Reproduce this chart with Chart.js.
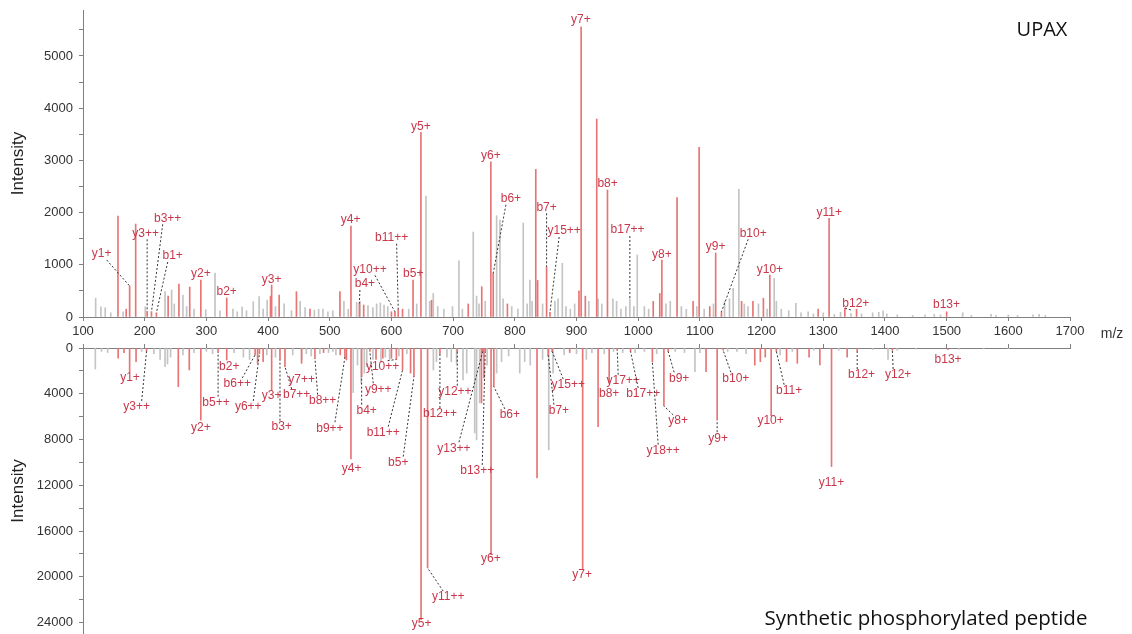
<!DOCTYPE html>
<html>
<head>
<meta charset="utf-8">
<script src="https://cdn.jsdelivr.net/npm/chart.js@4.4.1/dist/chart.umd.min.js"></script>
<style>
  body { margin: 0; background: #fff; width: 1132px; height: 634px; overflow: hidden; position: relative; }
  canvas { position: absolute; left: 0; }
  #top { top: 0; }
  #bot { top: 334px; }
  .note { position: absolute; white-space: nowrap; transform: translate(-50%, -50%); color: #111; }
</style>
</head>
<body>
<canvas id="top" width="1132" height="345"></canvas>
<canvas id="bot" width="1132" height="300"></canvas>
<div class="note" style="left:1042px;top:28px;font:20px 'Open Sans',sans-serif">UPAX</div>
<div class="note" style="left:1112px;top:333px;font:14px 'Liberation Sans',Arial,sans-serif;color:#333">m/z</div>
<div class="note" style="left:926px;top:617px;font:20.5px 'Open Sans',sans-serif">Synthetic phosphorylated peptide</div>
<script>
// [m/z, intensity]
const topMatched = [[156.7,1934],[170,150],[175.6,594],[185.4,1780],[204,110],[211,100],[219,80],[238,400],[255.5,632],[273,574],[291,708],[333,364],[404,400],[405.8,613],[418,421],[446,485],[468,150],[516.5,485],[534.4,1743],[548,260],[555,230],[600,100],[605.7,100],[611,150],[618,150],[635,708],[647.8,3537],[665,320],[724.5,250],[746.4,580],[761.2,2974],[765,840],[788,250],[834,2828],[837,700],[851.5,963],[857,90],[904,500],[907.5,5560],[914.3,400],[932.8,3792],[950.2,2432],[1024.4,300],[1035,450],[1038.4,1092],[1063,2285],[1089,300],[1098.8,3250],[1116,200],[1125.6,1225],[1135,100],[1167.6,300],[1186,300],[1203,360],[1213.4,804],[1291.7,150],[1309.5,1890],[1335,170],[1354,150],[1500,100]];
const topOther = [[120.5,360],[129,197],[136,178],[145,80],[165,100],[201,200],[233,485],[243.7,517],[248,250],[262,420],[268,200],[280,150],[299,140],[314,843],[322,120],[343,150],[350,100],[358,190],[365,120],[376,293],[385.5,390],[392,150],[398.5,325],[412,200],[426,250],[438,120],[452,300],[460,180],[475,130],[482,150],[489,150],[497,100],[505,120],[523,300],[530,150],[543.6,280],[549,300],[562,220],[570,180],[576,250],[582,270],[588,230],[594,200],[628,150],[641,250],[656,2317],[662,300],[667.8,450],[675,200],[685,150],[699,200],[709.4,1078],[715,150],[732.6,1627],[738,400],[742,250],[752,300],[770.5,1940],[775.9,1858],[781,350],[795,200],[805,150],[813.7,1800],[820,250],[824.5,708],[828,300],[845,250],[865,300],[870,350],[877,1028],[883,200],[890,150],[897,250],[920,300],[935,350],[941,250],[959,350],[965,300],[972,150],[980,200],[986.5,350],[993,200],[998.5,1187],[1010,200],[1017,150],[1045,250],[1052,300],[1070,200],[1078,150],[1095,200],[1107,150],[1122,250],[1140,300],[1148,350],[1154,550],[1163.2,2445],[1172,250],[1178,200],[1195,250],[1209,150],[1220.5,740],[1224,300],[1232,150],[1244,120],[1255.6,260],[1264,80],[1275.5,100],[1284,60],[1300,80],[1318,50],[1328,90],[1345,70],[1362,60],[1380,80],[1390,90],[1397,120],[1403,60],[1420,40],[1445,30],[1465,40],[1480,50],[1490,40],[1526,80],[1540,30],[1572,50],[1580,30],[1600,40],[1615,30],[1640,40],[1650,50],[1660,30]];

const botMatched = [[157,880],[166.5,400],[175.6,2070],[186,1190],[203,300],[254.5,3380],[272.3,1920],[291,6300],[319,400],[333,1050],[379,600],[383,1340],[386,500],[392,1200],[405.8,3670],[419.3,1000],[427.4,1630],[454.3,1340],[476,900],[490,400],[517,600],[524.6,800],[527,1050],[534.4,9700],[551.7,2500],[565,300],[575,1000],[586,900],[600,900],[608,1000],[618,1920],[631,2200],[636.5,2500],[648,23750],[658.6,19230],[678.6,500],[706.7,300],[746,4800],[748,300],[750,2620],[752,400],[761.5,18070],[766,3380],[836,11350],[854,600],[860.5,300],[889,400],[910,19380],[935,6870],[953,3060],[966,200],[987.6,300],[1023,1200],[1041.7,5060],[1048.6,300],[1110,2070],[1128,6290],[1137.7,200],[1189,1500],[1198,1200],[1206,800],[1215.6,5940],[1224,300],[1240.5,1190],[1258,1340],[1277,800],[1294.5,1480],[1313.4,10360],[1338.8,800],[1355,300],[1412,200],[1502,150]];
const botOther = [[120,1830],[130,300],[140,400],[195,300],[215,500],[225,1000],[233,1630],[237,1400],[242,800],[262,600],[280,400],[300,300],[310,500],[345,400],[360,800],[370,1000],[398,600],[412,800],[440,600],[454.5,1000],[462,500],[470,700],[484,500],[498,400],[505,300],[510,600],[538,3900],[545,1500],[551,3080],[556,2200],[560,1630],[570,1000],[583,1200],[590,800],[597,1000],[612,700],[625,500],[668,1920],[673,1200],[690,800],[697,1200],[705.6,1400],[716,2800],[722,2200],[735,7420],[738,8030],[743,4800],[755,1500],[770.5,2200],[778.5,1200],[790,700],[808,2200],[816,1200],[825,1500],[845,1000],[855,8900],[862,2200],[880,600],[900,500],[916,1000],[925,400],[945,500],[960,300],[975,400],[995,400],[1010,300],[1030,500],[1060,300],[1075,400],[1092,2070],[1100,400],[1145,300],[1160,300],[1175,500],[1230,600],[1250,300],[1285,200],[1325,200],[1380,150],[1405,990],[1420,200],[1450,100],[1520,100],[1560,60],[1600,60]];

// fragment ion labels: name, m/z of the peak it marks, where the tag sits (m/z, intensity)
const topIons   = ['y1+','y3++','b3++','b1+','y2+','b2+','y3+','y4+','b11++','y10++','b4+','b5+','y5+','y6+','b6+','b7+','y15++','y7+','b8+','b17++','y8+','y9+','b10+','y10+','y11+','b12+','b13+'];
const topIonMz  = [175.6,204,211,219,291,333,405.8,534.4,611,605.7,548,635,647.8,761.2,765,851.5,857,907.5,950.2,986.5,1038.4,1125.6,1135,1213.4,1309.5,1335,1500];
const topTagMz  = [130.3,201.6,237.3,245.4,291.2,332.9,405.8,533.9,600.3,565.2,557,635.3,647.8,761.3,793.7,851.5,880,907.1,950.4,982.8,1038.4,1125.4,1186.4,1213.5,1309.6,1352.8,1499.8];
const topTagInt = [1206,1603,1890,1168,837,484,722,1858,1519,913,632,837,3644,3097,2265,2101,1647,5688,2560,1666,1201,1346,1603,913,1997,249,230];

const botIons   = ['y1+','y3++','b2+','b6++','b5++','y6++','y2+','y3+','b7++','y7++','b3+','b8++','b9++','y4+','y10++','y9++','b4+','b11++','b5+','y12++','b12++','y13++','b13++','b6+','y11++','y5+','y6+','y15++','b7+','y7+','b8+','y17++','b17++','y18++','y8+','b9+','y9+','b10+','y10+','b11+','y11+','b12+','y12+','b13+'];
const botIonMz  = [175.6,203,333,379,319,386,291,405.8,427.4,454.3,419.3,476,524.6,534.4,608,565,551.7,618,636.5,706.7,678.6,748,752,766,658.6,648,761.5,860.5,854,910,953,966,987.6,1023,1041.7,1048.6,1128,1137.7,1215.6,1224,1313.4,1355,1412,1502];
const botTagMz  = [176.2,187,337.1,350.1,315.6,367.9,291.2,405.8,446.4,454.5,422,488.5,500.3,535.5,585.7,578.6,559.8,586.7,611,702.9,678.6,701.3,739.1,792,692,648.9,761.3,886.6,871.5,909.2,953,975.7,1008.1,1040.5,1064.8,1066.4,1129.7,1158.3,1214.6,1244.7,1313.4,1362.1,1421.4,1502.4];
const botTagInt = [2559,5153,1633,3144,4777,5153,6926,4192,4105,2734,6874,4603,7013,10507,1633,3607,5476,7398,10018,3817,5764,8760,10743,5852,21774,24126,18455,3232,5476,19826,4018,2856,4018,8970,6376,2646,7887,2646,6376,3729,11817,2358,2358,987];

const AXIS = '#808080';
const FONT = "'Liberation Sans', Arial, sans-serif";

const ionTags = {
  id: 'ionTags',
  afterDatasetsDraw(chart, args, o) {
    const { ctx, scales: { x, y } } = chart;
    const pts = chart.data.datasets.flatMap(d => d.data);
    ctx.save();
    ctx.font = '12px ' + FONT;
    ctx.textAlign = 'center';
    ctx.textBaseline = 'middle';
    o.names.forEach((name, i) => {
      let pk = pts[0];
      pts.forEach(p => { if (Math.abs(p.x - o.peakMz[i]) < Math.abs(pk.x - o.peakMz[i])) pk = p; });
      const px = x.getPixelForValue(pk.x), py = y.getPixelForValue(pk.y);
      const lx = x.getPixelForValue(o.tagMz[i]), ly = y.getPixelForValue(o.tagInt[i]);
      const sy = ly + (o.down ? -6 : 6);
      const gap = o.down ? sy - py : py - sy;
      if (Math.abs(px - lx) > 4 || gap > 12) {
        const sx = lx + Math.max(-5, Math.min(5, px - lx));
        ctx.setLineDash([2, 2]);
        ctx.strokeStyle = '#333';
        ctx.lineWidth = 1;
        ctx.beginPath();
        ctx.moveTo(sx, sy);
        ctx.lineTo(px, py);
        ctx.stroke();
      }
      ctx.fillStyle = '#c8374a';
      ctx.fillText(name, lx, ly);
    });
    ctx.restore();
  }
};

// evenly stepped ticks from 0 up to the axis max (Chart.js would otherwise stretch the step to fit max)
const stepTicks = step => s => {
  s.ticks = [];
  for (let v = 0; v <= s.max; v += step) s.ticks.push({ value: v });
};

function spectrum(id, matched, other, tags, xOpts, yOpts, pad) {
  return new Chart(document.getElementById(id), {
    type: 'bar',
    data: {
      datasets: [
        { data: matched.map(([x, y]) => ({ x, y })), backgroundColor: '#e87474' },
        { data: other.map(([x, y]) => ({ x, y })), backgroundColor: '#c4c4c4' }
      ]
    },
    options: {
      responsive: false,
      animation: false,
      events: [],
      layout: { padding: pad },
      datasets: { bar: { barThickness: 1, grouped: false } },
      plugins: { legend: { display: false }, tooltip: { enabled: false }, ionTags: tags },
      scales: {
        x: Object.assign({
          type: 'linear', min: 100, max: 1700, offset: false,
          grid: { drawOnChartArea: false, offset: false, tickLength: 4, color: AXIS },
          border: { color: AXIS }
        }, xOpts),
        y: Object.assign({
          min: 0,
          grid: { drawOnChartArea: false, tickLength: 4, color: AXIS },
          border: { color: AXIS },
          title: { display: true, text: 'Intensity', color: '#222', font: { family: FONT, size: 17 }, padding: { top: 8, bottom: 0 } },
          afterFit(s) { s.width = 83; s.paddingTop = 0; s.paddingBottom = 0; }
        }, yOpts)
      }
    },
    plugins: [ionTags]
  });
}

const tickFont = { family: FONT, size: 13 };

spectrum('top', topMatched, topOther,
  { names: topIons, peakMz: topIonMz, tagMz: topTagMz, tagInt: topTagInt, down: false },
  {
    position: 'bottom',
    ticks: { stepSize: 100, autoSkip: false, maxRotation: 0, padding: 3, color: '#333', font: tickFont, callback: v => String(v) },
    afterFit(s) { s.height = 28; }
  },
  {
    max: 5880,
    afterBuildTicks: stepTicks(500),
    ticks: { autoSkip: false, padding: 6, color: '#333', font: tickFont, callback: v => v % 1000 === 0 ? String(v) : '' }
  },
  { top: 10, right: 62, left: 0, bottom: 0 });

spectrum('bot', botMatched, botOther,
  { names: botIons, peakMz: botIonMz, tagMz: botTagMz, tagInt: botTagInt, down: true },
  {
    position: 'top',
    ticks: { display: false, stepSize: 100, autoSkip: false },
    afterFit(s) { s.height = 14; s.paddingLeft = 0; s.paddingRight = 0; }
  },
  {
    max: 25000, reverse: true,
    afterBuildTicks: stepTicks(2000),
    ticks: { autoSkip: false, padding: 6, color: '#333', font: tickFont, callback: v => v % 4000 === 0 ? String(v) : '' }
  },
  { top: 0, right: 62, left: 0, bottom: 0 });
</script>
</body>
</html>
